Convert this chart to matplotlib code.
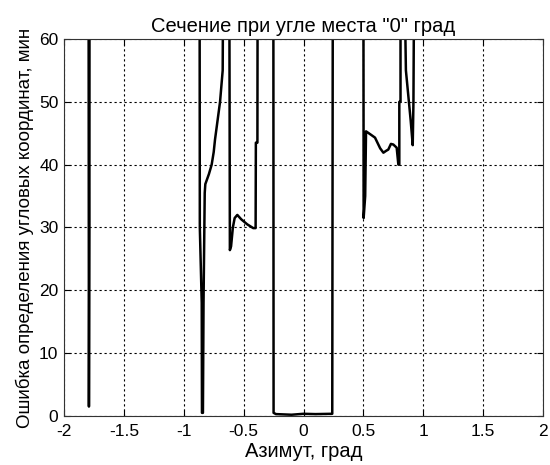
import numpy as np
import matplotlib
matplotlib.use('Agg')
from matplotlib import pyplot as plt

plt.rcParams['font.family'] = ['Liberation Sans', 'DejaVu Sans']

# curve pieces (values above 60 get clipped by the axis)
az_a = [-1.795, -1.792, -1.788, -1.787]
err_a = [75, 1.5, 31, 75]

az_b = [-0.868, -0.866, -0.85, -0.848, -0.84, -0.835, -0.825, -0.82, -0.79,
        -0.767, -0.75, -0.739, -0.697, -0.675, -0.67]
err_b = [75, 30, 18, 0.5, 0.5, 18, 35.5, 36.9, 38.5, 40.0, 42, 44, 50, 55, 75]

az_c = [-0.62, -0.615, -0.605, -0.59, -0.575, -0.553, -0.52, -0.47, -0.42,
        -0.40, -0.398, -0.385, -0.383]
err_c = [75, 26.4, 27, 30, 31.5, 32.0, 31.3, 30.5, 29.9, 29.9, 43.5, 43.5, 75]

az_d = [-0.252, -0.25, -0.23, -0.1, 0.0, 0.1, 0.24, 0.245]
err_d = [75, 0.5, 0.3, 0.2, 0.35, 0.3, 0.35, 75]

az_e = [0.50, 0.502, 0.515, 0.522, 0.56, 0.597, 0.64, 0.667, 0.69, 0.708,
        0.73, 0.75, 0.778, 0.792, 0.80, 0.80, 0.81, 0.81]
err_e = [75, 31.5, 35, 45.3, 44.8, 44.3, 42.6, 41.9, 42.2, 42.4,
         43.3, 43.2, 42.7, 40.0, 40.0, 50, 50, 75]

az_f = [0.839, 0.855, 0.875, 0.895, 0.912, 0.918, 0.925]
err_f = [75, 55, 51, 47, 43.1, 50, 75]

xticks = [-2, -1.5, -1, -0.5, 0, 0.5, 1, 1.5, 2]
xlabels = ['-2', '-1.5', '-1', '-0.5', '0', '0.5', '1', '1.5', '2']
yticks = [0, 10, 20, 30, 40, 50, 60]

x = []
y = []
for a, e in [(az_a, err_a), (az_b, err_b), (az_c, err_c),
             (az_d, err_d), (az_e, err_e), (az_f, err_f)]:
    x += a + [np.nan]
    y += e + [np.nan]

fig = plt.figure(figsize=(5.5, 4.65), dpi=100)
ax = fig.add_axes([0.1164, 0.1054, 0.8709, 0.8108])
ax.plot(x, y, color='black', linewidth=1.8)

ax.set_xlim(-2, 2)
ax.set_ylim(0, 60)
ax.set_xticks(xticks)
ax.set_xticklabels(xlabels)
ax.set_yticks(yticks)
ax.grid(True, linestyle=(0, (2, 2.5)), color='black', linewidth=0.8)
ax.tick_params(direction='in', top=True, right=True, length=4, labelsize=12.5)
ax.tick_params(axis='x', pad=6)
ax.tick_params(axis='y', pad=4)
for s in ax.spines.values():
    s.set_color('#333333')

ax.set_title('Сечение при угле места "0" град', fontsize=14.5, pad=5)
ax.set_xlabel('Азимут, град', fontsize=14.5, labelpad=2)
ax.set_ylabel('Ошибка определения угловых координат, мин', fontsize=13.5, labelpad=4)

plt.savefig('out.png', dpi=100)
